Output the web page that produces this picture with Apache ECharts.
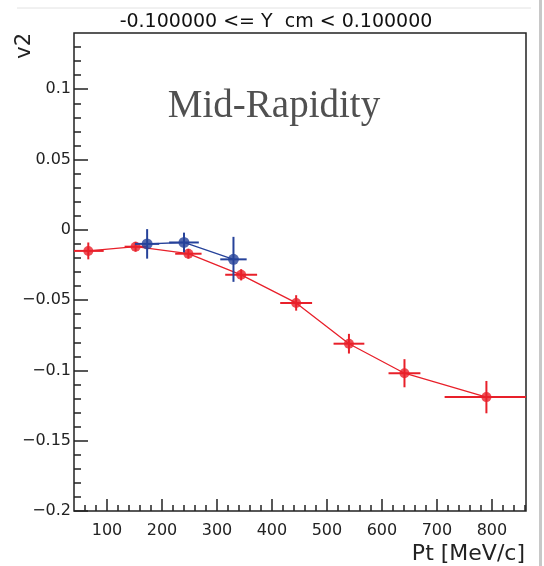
<!DOCTYPE html>
<html><head><meta charset="utf-8">
<script src="https://cdn.jsdelivr.net/npm/echarts@6/dist/echarts.min.js"></script>
<style>html,body{margin:0;padding:0;background:#fff}#c{width:544px;height:566px}</style>
</head><body><div id="c"></div>
<script>
// ---- data ----
const titleText = '-0.100000 <= Y  cm < 0.100000';
const annotation = 'Mid-Rapidity';
const xTitle = 'Pt [MeV/c]';
const yTitle = 'v2';
const xTicks = [100, 200, 300, 400, 500, 600, 700, 800];
const yTicks = [-0.2, -0.15, -0.1, -0.05, 0, 0.05, 0.1];
const xRange = [40, 862];
const yRange = [-0.2, 0.14];

const redPt    = [66, 152, 248, 344, 444, 540, 641, 790];
const redV2    = [-0.015, -0.012, -0.017, -0.032, -0.052, -0.081, -0.102, -0.119];
const redPtErr = [28, 20, 24, 29, 29, 28, 29, 76];
const redV2Err = [0.006, 0.0035, 0.0035, 0.004, 0.0055, 0.007, 0.010, 0.0115];

const bluePt    = [173, 240, 330];
const blueV2    = [-0.010, -0.009, -0.021];
const bluePtErr = [22, 27, 24];
const blueV2Err = [0.0105, 0.007, 0.016];

// minor tick positions (ROOT style: 5 subdivisions)
const xMinor = [];
for (let v = 60; v <= 860; v += 20) if (v % 100 !== 0) xMinor.push(v);
const yMinor = [];
for (let i = -19; i <= 13; i++) if (i % 5 !== 0) yMinor.push(i / 100);

const RED = '#e8202a', BLUE = '#26429a';
const FONT = 'DejaVu Sans';

function pts(xs, ys) { return xs.map((x, i) => [x, ys[i]]); }
function errs(xs, ys, ex, ey) { return xs.map((x, i) => [x, ys[i], ex[i], ey[i]]); }

function errRender(color) {
  return function (params, api) {
    const cs = params.coordSys;
    const clampX = v => Math.max(cs.x, Math.min(cs.x + cs.width, v));
    const clampY = v => Math.max(cs.y, Math.min(cs.y + cs.height, v));
    const x = api.value(0), y = api.value(1), ex = api.value(2), ey = api.value(3);
    const l = api.coord([x - ex, y]), r = api.coord([x + ex, y]);
    const t = api.coord([x, y + ey]), b = api.coord([x, y - ey]);
    const style = { stroke: color, lineWidth: 2 };
    return { type: 'group', children: [
      { type: 'line', shape: { x1: clampX(l[0]), y1: l[1], x2: clampX(r[0]), y2: r[1] }, style },
      { type: 'line', shape: { x1: t[0], y1: clampY(t[1]), x2: b[0], y2: clampY(b[1]) }, style }
    ]};
  };
}

const fmtY = v => (Math.abs(v) < 1e-9 ? '0' : String(v).replace('-', '\u2212'));

const chart = echarts.init(document.getElementById('c'), null, { renderer: 'canvas' });
chart.setOption({
  animation: false,
  backgroundColor: '#fff',
  title: {
    text: titleText, left: 276, top: 13, textAlign: 'center', padding: 0,
    textStyle: { fontFamily: FONT, fontSize: 19, fontWeight: 'normal', color: '#111' }
  },
  grid: { left: 74, right: 18, top: 33, bottom: 55, show: true, borderColor: '#222', borderWidth: 1.5, backgroundColor: 'transparent' },
  xAxis: [
    { type: 'value', min: xRange[0], max: xRange[1], position: 'bottom',
      axisLine: { show: false, onZero: false }, splitLine: { show: false },
      axisTick: { show: true, inside: true, length: 12, customValues: xTicks, lineStyle: { color: '#222', width: 1.5 } },
      axisLabel: { show: true, customValues: xTicks, margin: 12, fontFamily: FONT, fontSize: 16, color: '#222' } },
    { type: 'value', min: xRange[0], max: xRange[1], position: 'bottom', offset: 0,
      axisLine: { show: false, onZero: false }, splitLine: { show: false }, axisLabel: { show: false },
      axisTick: { show: true, inside: true, length: 6, customValues: xMinor, lineStyle: { color: '#222', width: 1.5 } } }
  ],
  yAxis: [
    { type: 'value', min: yRange[0], max: yRange[1], position: 'left',
      axisLine: { show: false, onZero: false }, splitLine: { show: false },
      axisTick: { show: true, inside: true, length: 14, customValues: yTicks, lineStyle: { color: '#222', width: 1.5 } },
      axisLabel: { show: true, customValues: yTicks, margin: 3, formatter: fmtY, fontFamily: FONT, fontSize: 16, color: '#222' } },
    { type: 'value', min: yRange[0], max: yRange[1], position: 'left', offset: 0,
      axisLine: { show: false, onZero: false }, splitLine: { show: false }, axisLabel: { show: false },
      axisTick: { show: true, inside: true, length: 7, customValues: yMinor, lineStyle: { color: '#222', width: 1.5 } } }
  ],
  graphic: [
    { type: 'line', shape: { x1: 17, y1: 8, x2: 531, y2: 8 }, style: { stroke: '#e2e2e2', lineWidth: 1 }, silent: true },
    { type: 'rect', shape: { x: 539, y: 0, width: 3, height: 566 }, style: { fill: '#c8c8c8' }, silent: true },
    { type: 'text', x: 274, y: 107, style: { text: annotation, font: '39px "Liberation Serif"', fill: '#505050', textAlign: 'center', textVerticalAlign: 'middle' }, z: 10 },
    { type: 'text', x: 525, y: 554, style: { text: xTitle, font: '22px "DejaVu Sans"', fill: '#222', textAlign: 'right', textVerticalAlign: 'middle' } },
    { type: 'text', x: 25, y: 33, rotation: Math.PI / 2, style: { text: yTitle, font: '21px "DejaVu Sans"', fill: '#222', textAlign: 'right', textVerticalAlign: 'middle' } }
  ],
  series: [
    { type: 'line', name: 'red', xAxisIndex: 0, yAxisIndex: 0, data: pts(redPt, redV2),
      symbol: 'none', lineStyle: { color: RED, width: 1.3 }, z: 2 },
    { type: 'custom', xAxisIndex: 0, yAxisIndex: 0, data: errs(redPt, redV2, redPtErr, redV2Err),
      renderItem: errRender(RED), clip: true, z: 3 },
    { type: 'scatter', xAxisIndex: 0, yAxisIndex: 0, data: pts(redPt, redV2),
      symbol: 'circle', symbolSize: 10, itemStyle: { color: RED }, z: 4 },
    { type: 'line', name: 'blue', xAxisIndex: 0, yAxisIndex: 0, data: pts(bluePt, blueV2),
      symbol: 'none', lineStyle: { color: BLUE, width: 1.3 }, z: 5 },
    { type: 'custom', xAxisIndex: 0, yAxisIndex: 0, data: errs(bluePt, blueV2, bluePtErr, blueV2Err),
      renderItem: errRender(BLUE), clip: true, z: 6 },
    { type: 'scatter', xAxisIndex: 0, yAxisIndex: 0, data: pts(bluePt, blueV2),
      symbol: 'circle', symbolSize: 11, itemStyle: { color: BLUE }, z: 7 }
  ]
});
</script>
</body></html>
